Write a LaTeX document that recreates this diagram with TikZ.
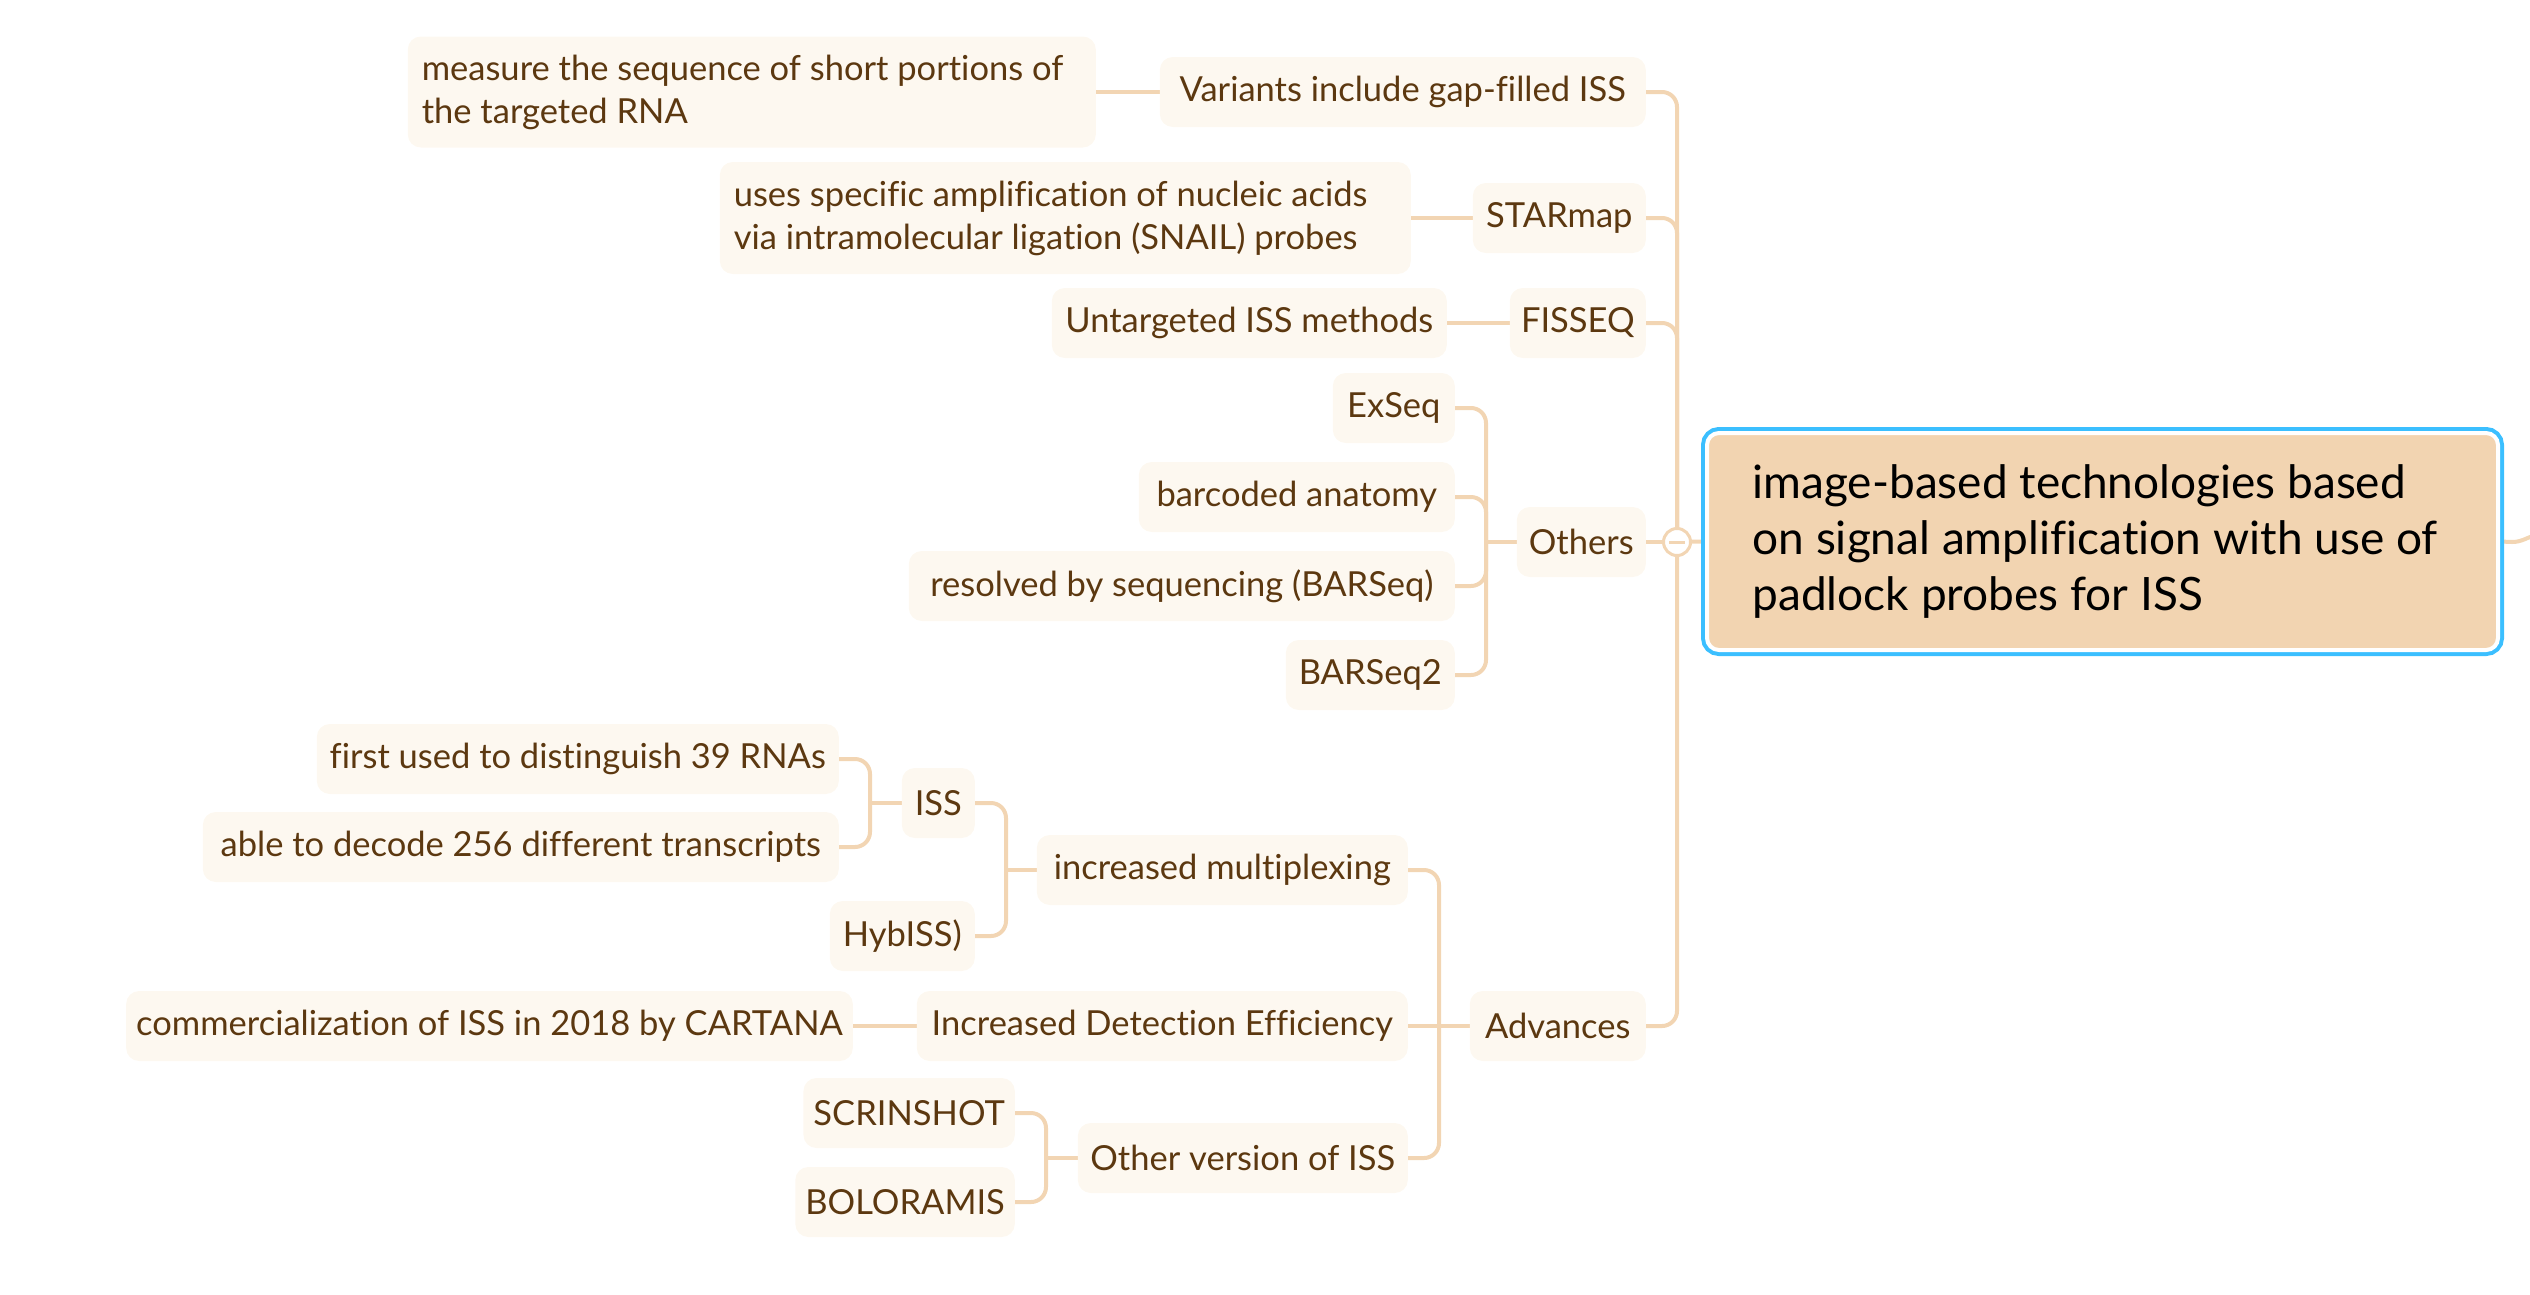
\documentclass[tikz,border=0pt]{standalone}
\usepackage{fontspec}
\setmainfont{Lato}[Ligatures=NoCommon]
\definecolor{txtc}{HTML}{5C3810}
\definecolor{boxc}{HTML}{FDF8F0}
\definecolor{linec}{HTML}{F2D5B3}
\definecolor{rootc}{HTML}{F2D4B1}
\definecolor{bluec}{HTML}{3BBFFF}
\pgfdeclarelayer{background}
\pgfsetlayers{background,main}
\tikzset{
  topic/.style={rectangle, rounded corners=13pt, fill=boxc, text=txtc,
    font=\fontsize{34.5pt}{43pt}\selectfont, minimum height=70pt,
    inner xsep=10pt, inner ysep=0pt, anchor=east},
  twoline/.style={topic, inner xsep=14pt},
  conn/.style={draw=linec, line width=4pt},
  elbow/.style={conn, rounded corners=15pt},
  roottopic/.style={rectangle, rounded corners=12pt, fill=rootc, text=black,
    draw=white, line width=4pt,
    preaction={draw=bluec, line width=12pt},
    minimum width=791pt, minimum height=217pt, inner xsep=30pt,
    font=\fontsize{46pt}{56pt}\selectfont},
  collapsemark/.style={circle, draw=linec, fill=white, line width=3pt,
    minimum size=27pt, inner sep=0pt},
}
\begin{document}
\begin{tikzpicture}[x=1pt,y=-1pt]
\useasboundingbox (0,0) rectangle (2530,1294);

% root
\node[roottopic] (root) at (2102.5,541.5)
  {\raisebox{-6pt}{\parbox{700pt}{\raggedright image-based technologies based\\on signal amplification with use of\\padlock probes for ISS}}};

% level 1
\node[topic, minimum width=486pt] (variants) at (1646,92) {Variants include gap-filled ISS};
\node[topic, minimum width=173pt] (starmap) at (1646,218) {STARmap};
\node[topic, minimum width=136pt] (fisseq) at (1646,323) {FISSEQ};
\node[topic, minimum width=129pt] (others) at (1646,542) {Others};
\node[topic, minimum width=176pt] (advances) at (1646,1026) {Advances};

% level 2
\node[twoline, minimum width=688pt, minimum height=111pt] (measure) at (1096,92)
  {\raisebox{-3pt}{\parbox{660pt}{\raggedright measure the sequence of short portions of\\the targeted RNA}}};
\node[twoline, minimum width=691pt, minimum height=112pt] (uses) at (1411,218)
  {\raisebox{-3pt}{\parbox{663pt}{\raggedright uses specific amplification of nucleic acids\\via intramolecular ligation (SNAIL) probes}}};
\node[topic, minimum width=395pt] (untargeted) at (1447,323) {Untargeted ISS methods};
\node[topic, minimum width=122pt] (exseq) at (1455,408) {ExSeq};
\node[topic, minimum width=316pt] (barcoded) at (1455,497) {barcoded anatomy};
\node[topic, minimum width=546pt] (resolved) at (1455,586) {resolved by sequencing (BARSeq)};
\node[topic, minimum width=169pt] (barseq2) at (1455,675) {BARSeq2};
\node[topic, minimum width=371pt] (multiplex) at (1408,870) {increased multiplexing};
\node[topic, minimum width=491pt] (detection) at (1408,1026) {Increased Detection Efficiency};
\node[topic, minimum width=330pt] (otherver) at (1408,1158) {Other version of ISS};

% level 3
\node[topic, minimum width=73pt] (iss) at (975,803) {ISS};
\node[topic, minimum width=145pt] (hybiss) at (975,936) {HybISS)};
\node[topic, minimum width=726pt] (cartana) at (853,1026) {commercialization of ISS in 2018 by CARTANA};
\node[topic, minimum width=205pt] (scrinshot) at (1015,1113) {SCRINSHOT};
\node[topic, minimum width=212pt] (boloramis) at (1015,1202) {BOLORAMIS};

% level 4
\node[topic, minimum width=522pt] (first) at (839,759) {first used to distinguish 39 RNAs};
\node[topic, minimum width=636pt] (able) at (839,847) {able to decode 256 different transcripts};

% junctions
\coordinate (hub) at (1677,542);
\coordinate (othersJ) at (1486,542);
\coordinate (advJ) at (1439,1026);
\coordinate (mulJ) at (1006,870);
\coordinate (issJ) at (870,803);
\coordinate (otvJ) at (1046,1158);
\coordinate (rootR) at (2512,542);
\coordinate (offright) at (2536,535);

\begin{pgfonlayer}{background}
  % main trunk
  \draw[elbow] (hub) |- (variants.east);
  \draw[elbow] (hub) |- (starmap.east);
  \draw[elbow] (hub) |- (fisseq.east);
  \draw[elbow] (hub) |- (advances.east);
  \draw[conn] (others.east) -- (hub);
  \draw[conn] (hub) -- (root.west);
  \draw[conn] (root.east) -- (rootR) to[out=0,in=195] (offright);
  % single children
  \draw[conn] (variants.west) -- (measure.east);
  \draw[conn] (starmap.west) -- (uses.east);
  \draw[conn] (fisseq.west) -- (untargeted.east);
  \draw[conn] (detection.west) -- (cartana.east);
  % others
  \draw[conn] (others.west) -- (othersJ);
  \draw[elbow] (othersJ) |- (exseq.east);
  \draw[elbow] (othersJ) |- (barcoded.east);
  \draw[elbow] (othersJ) |- (resolved.east);
  \draw[elbow] (othersJ) |- (barseq2.east);
  % advances
  \draw[conn] (advances.west) -- (detection.east);
  \draw[elbow] (advJ) |- (multiplex.east);
  \draw[elbow] (advJ) |- (otherver.east);
  % increased multiplexing
  \draw[conn] (multiplex.west) -- (mulJ);
  \draw[elbow] (mulJ) |- (iss.east);
  \draw[elbow] (mulJ) |- (hybiss.east);
  % ISS
  \draw[conn] (iss.west) -- (issJ);
  \draw[elbow] (issJ) |- (first.east);
  \draw[elbow] (issJ) |- (able.east);
  % other version
  \draw[conn] (otherver.west) -- (otvJ);
  \draw[elbow] (otvJ) |- (scrinshot.east);
  \draw[elbow] (otvJ) |- (boloramis.east);
\end{pgfonlayer}

% collapse marker
\node[collapsemark] (collapse) at (hub) {};
\draw[draw=linec, line width=3pt] ([xshift=-8pt]collapse.center) -- ([xshift=8pt]collapse.center);
\end{tikzpicture}
\end{document}
